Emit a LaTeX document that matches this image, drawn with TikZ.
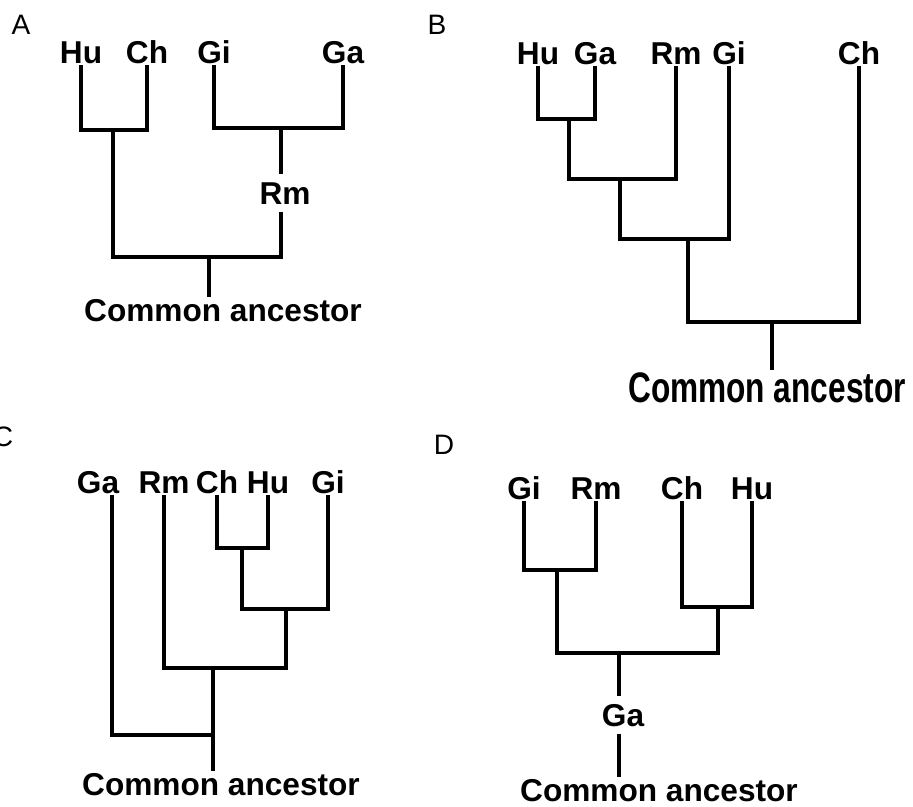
\documentclass[tikz,border=0pt]{standalone}
\usepackage{fontspec}
\setmainfont{Liberation Sans}
\usepackage{graphicx}
\usepackage{tikz}
\usetikzlibrary{calc}
\tikzset{%
  taxon/.style    = {font=\bfseries\fontsize{18}{20}\selectfont, inner sep=1pt,%
                     text height=12.9pt, text depth=0pt},%
  midtaxon/.style = {taxon, inner sep=4pt},%
  panel/.style    = {font=\fontsize{16}{18}\selectfont, inner sep=0pt},%
  branch/.style   = {line width=2.3pt}%
}

\begin{document}
\begin{tikzpicture}[x=0.02cm,y=-0.02cm]%
	\useasboundingbox (0,0) rectangle (913,806);
	% A
	\node[panel] (pA) at (21,25) {A};%
	\node[taxon] (aHu) at (81,52) {Hu};%
	\node[taxon] (aCh) at (147,52) {Ch};%
	\node[taxon] (aGi) at (214,52) {Gi};%
	\node[taxon] (aGa) at (343,52) {Ga};%
	\node[midtaxon] (aRm) at (285,193) {Rm};%
	\node[taxon] (aAnc) at (223,310) {Common ancestor};%
	\coordinate (aHC) at (113,130);%
	\coordinate (aGG) at (281,128);%
	\coordinate (aRoot) at (209,257);%
	\draw[branch] (aHu.south) |- (aHC) -| (aCh.south);%
	\draw[branch] (aGi.south) |- (aGG) -| (aGa.south);%
	\draw[branch] (aGG) -- (aGG |- aRm.north);%
	\draw[branch] (aHC) |- (aRoot) -| (aGG |- aRm.south);%
	\draw[branch] (aRoot) -- (aRoot |- aAnc.north);%
	% B
	\node[panel] (pB) at (437,25) {B};%
	\node[taxon] (bHu) at (538,53) {Hu};%
	\node[taxon] (bGa) at (595,53) {Ga};%
	\node[taxon] (bRm) at (676,53) {Rm};%
	\node[taxon] (bGi) at (729,53) {Gi};%
	\node[taxon] (bCh) at (859,53) {Ch};%
	\node[taxon, text height=17.4pt] (bAnc) at (767,387) {\scalebox{1}[1.35]{Common ancestor}};%
	\coordinate (bHG) at (569,119);%
	\coordinate (bHGR) at (620,179);%
	\coordinate (bHGRG) at (688,239);%
	\coordinate (bRoot) at (772,322);%
	\draw[branch] (bHu.south) |- (bHG) -| (bGa.south);%
	\draw[branch] (bHG) |- (bHGR) -| (bRm.south);%
	\draw[branch] (bHGR) |- (bHGRG) -| (bGi.south);%
	\draw[branch] (bHGRG) |- (bRoot) -| (bCh.south);%
	\draw[branch] (bRoot) -- (bRoot |- bAnc.north);%
	% C
	\node[panel] (pC) at (3,437) {C};%
	\node[taxon] (cGa) at (98,482) {Ga};%
	\node[taxon] (cRm) at (164,482) {Rm};%
	\node[taxon] (cCh) at (217,482) {Ch};%
	\node[taxon] (cHu) at (268,482) {Hu};%
	\node[taxon] (cGi) at (328,482) {Gi};%
	\node[taxon] (cAnc) at (221,784) {Common ancestor};%
	\coordinate (cCH) at (242,548);%
	\coordinate (cCHG) at (286,609);%
	\coordinate (cRCHG) at (213,668);%
	\coordinate (cGaBend) at (112,735);%
	\coordinate (cRoot) at (213,735);%
	\draw[branch] (cCh.south) |- (cCH) -| (cHu.south);%
	\draw[branch] (cCH) |- (cCHG) -| (cGi.south);%
	\draw[branch] (cRm.south) |- (cRCHG) -| (cCHG);%
	\draw[branch] (cGaBend |- cGa.south) -- (cGaBend) -- (cRoot);%
	\draw[branch] (cRCHG) -- (cRoot |- cAnc.north);%
	% D
	\node[panel] (pD) at (444,445) {D};%
	\node[taxon] (dGi) at (524,488) {Gi};%
	\node[taxon] (dRm) at (596,488) {Rm};%
	\node[taxon] (dCh) at (682,488) {Ch};%
	\node[taxon] (dHu) at (752,488) {Hu};%
	\node[midtaxon] (dGa) at (623,715) {Ga};%
	\node[taxon] (dAnc) at (659,790) {Common ancestor};%
	\coordinate (dGR) at (557,570);%
	\coordinate (dCH) at (718,607);%
	\coordinate (dTop) at (619,653);%
	\draw[branch] (dGi.south) |- (dGR) -| (dRm.south);%
	\draw[branch] (dCh.south) |- (dCH) -| (dHu.south);%
	\draw[branch] (dGR) |- (dTop) -| (dCH);%
	\draw[branch] (dTop) -- (dTop |- dGa.north);%
	\draw[branch] (dTop |- dGa.south) -- (dTop |- dAnc.north);%
\end{tikzpicture}
\end{document}
